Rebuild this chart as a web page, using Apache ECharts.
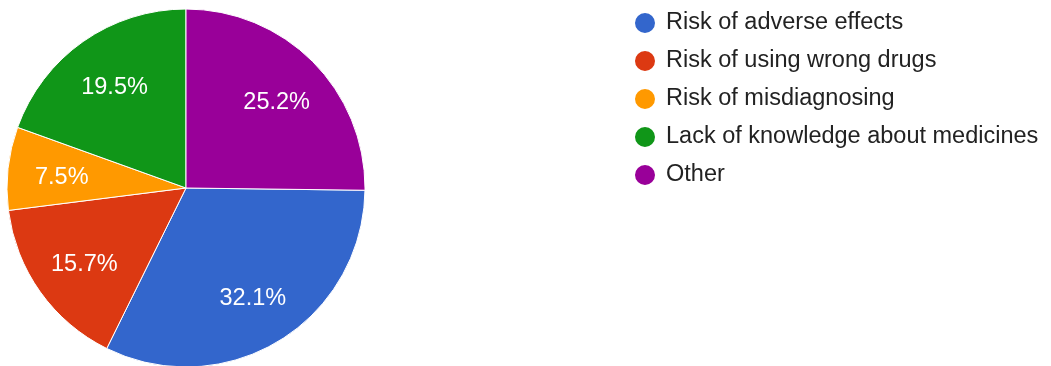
<!DOCTYPE html>
<html>
<head>
<meta charset="utf-8">
<script src="https://cdn.jsdelivr.net/npm/echarts@6/dist/echarts.min.js"></script>
<style>
  html, body { margin: 0; padding: 0; background: #ffffff; }
  #chart { width: 1051px; height: 366px; }
</style>
</head>
<body>
<div id="chart"></div>
<script>
var names = ['Risk of adverse effects', 'Risk of using wrong drugs', 'Risk of misdiagnosing', 'Lack of knowledge about medicines', 'Other']
var values = [32.1, 15.7, 7.5, 19.5, 25.2]
var colors = ['#3366cc', '#dc3912', '#ff9900', '#109618', '#990099']

var myChart = echarts.init(document.getElementById('chart'))

var pieData = []
for (var i = 0; i < names.length; i++) {
  pieData.push({ name: names[i], value: values[i] })
}

// slice 'Other' ends at 12 o'clock, so the first slice starts where it ends
var total = values.reduce(function(a, b) { return a + b }, 0)
var start = 90 - values[4] / total * 360

var option = {
  color: colors,
  animation: false,
  legend: {
    orient: 'vertical',
    left: 628,
    top: 6,
    itemWidth: 22,
    itemHeight: 22,
    itemGap: 14,
    icon: 'circle',
    textStyle: {
      fontFamily: 'Arial, "Liberation Sans", sans-serif',
      fontSize: 23.5,
      lineHeight: 24,
      color: '#222222',
      padding: [0, 0, 0, 5]
    },
    data: names
  },
  series: [
    {
      type: 'pie',
      center: [186, 188],
      radius: 179,
      startAngle: start,
      clockwise: true,
      label: { show: false },
      labelLine: { show: false },
      itemStyle: { borderColor: '#ffffff', borderWidth: 1 },
      data: pieData
    },
    {
      // only carries the percentage labels, further out than the midpoint
      type: 'pie',
      center: [187, 191],
      radius: [0, 246],
      startAngle: start,
      clockwise: true,
      silent: true,
      itemStyle: { color: 'rgba(0,0,0,0)' },
      label: {
        show: true,
        position: 'inside',
        fontFamily: 'Arial, "Liberation Sans", sans-serif',
        fontSize: 23.5,
        color: '#ffffff',
        formatter: function(p) { return p.value.toFixed(1) + '%' }
      },
      labelLine: { show: false },
      data: pieData
    }
  ]
}

myChart.setOption(option)
window.addEventListener('resize', () => {
  myChart.resize()
})
</script>
</body>
</html>
